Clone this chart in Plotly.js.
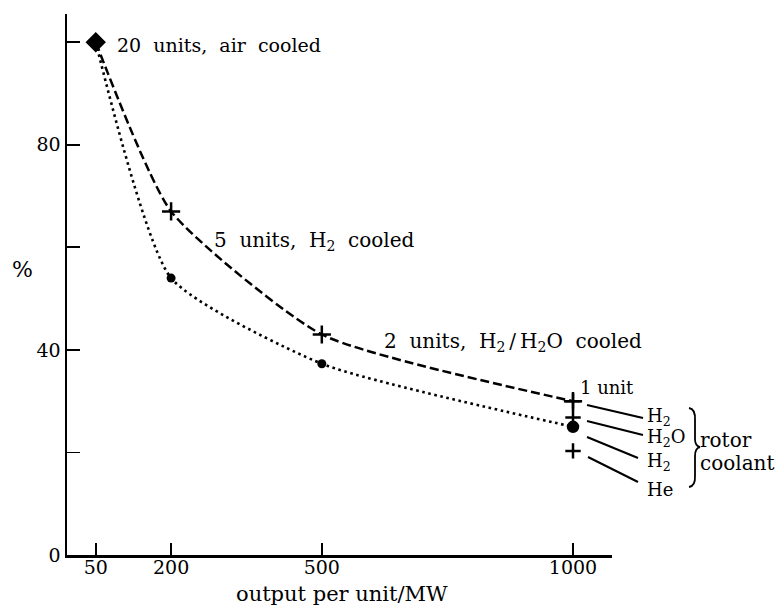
<!DOCTYPE html>
<html>
<head>
<meta charset="utf-8">
<script src="https://cdn.plot.ly/plotly-3.0.1.min.js"></script>
<style>html,body{margin:0;padding:0;background:#fff;}#chart{width:775px;height:612px;}</style>
</head>
<body>
<div id="chart"></div>
<script>
// ---- data ----
const outputMW = [50, 200, 500, 1000];
const dashedPct = [100, 67, 43, 30];      // dashed curve (+ markers)
const dottedPct = [100, 54, 37.3, 25];    // dotted curve (circle markers)
const xTickVals = [50, 200, 500, 1000];
const xTickText = ['50', '200', '500', '1000'];
const yTickVals = [0, 40, 80];
const yTickText = ['0', '40', '80'];
const yMinorTicks = [20, 60, 100];
const coolantLabels = ['H<sub>2</sub>', 'H<sub>2</sub>O', 'H<sub>2</sub>', 'He'];
const coolantPct = [30, 26.8, 25, 20.3];
const coolantSymbols = ['cross-thin', 'cross-thin', 'circle', 'cross-thin'];
const extraMW = 1000;

// ---- geometry helpers (layout only) ----
const L = 67, R = 612, T = 14, B = 555;
const pX = p => (p - L) / (R - L);
const pY = p => (B - p) / (B - T);
const FONT = 'DejaVu Serif, serif';
const FS = 19;

const traces = [
  {
    x: outputMW, y: dashedPct, type: 'scatter', mode: 'lines+markers',
    line: {color: '#000', width: 2.5, dash: '9px,4px', shape: 'spline', smoothing: 0.55},
    marker: {symbol: ['diamond', 'cross-thin', 'cross-thin', 'cross-thin'], size: 13, opacity: 1,
             color: '#000', line: {color: '#000', width: 2.5}},
    hoverinfo: 'skip', cliponaxis: false
  },
  {
    x: outputMW, y: dottedPct, type: 'scatter', mode: 'lines+markers',
    line: {color: '#000', width: 2.6, dash: '2.6px,3.6px', shape: 'spline', smoothing: 0.55},
    marker: {symbol: ['diamond', 'circle', 'circle', 'circle'], size: [13, 9, 9, 10], opacity: 1,
             color: '#000', line: {color: '#000', width: 0}},
    hoverinfo: 'skip', cliponaxis: false
  },
  {
    x: coolantPct.map(() => extraMW), y: coolantPct, type: 'scatter', mode: 'markers',
    marker: {symbol: coolantSymbols, size: coolantSymbols.map(s => s === 'circle' ? 10 : 11), opacity: 1,
             color: '#000', line: {color: '#000', width: 2.5}},
    hoverinfo: 'skip', cliponaxis: false
  }
];

// label rows (pixel y) and leader lines
const labelRowsPx = [417, 438, 461.5, 489];
const leaderStartPx = [[587, 405], [587, 421], [587, 437], [588, 457]];
const leaderEndPx = [[643, 418], [643, 435], [638, 458], [638, 482]];

const txt = (text, x, y, size, xa, ya) => ({
  text: text, x: x, y: y, xref: 'paper', yref: 'paper', xanchor: xa || 'left', yanchor: ya || 'middle',
  showarrow: false, font: {family: FONT, size: size, color: '#000'}
});

const annotations = [
  txt('20  units,  air  cooled', pX(115), pY(45), 19),
  txt('5  units,  H<sub>2</sub>  cooled', pX(212), pY(241), 20),
  txt('2  units,  H<sub>2</sub>\u2009/\u2009H<sub>2</sub>O  cooled', pX(382), pY(342), 20),
  txt('1 unit', pX(578), pY(387), 18),
  txt('rotor', pX(698), pY(440), 20),
  txt('coolant', pX(698), pY(463), 20),
  txt('%', pX(22), pY(269), 22, 'center'),
  txt('output per unit/MW', pX(342), pY(594), 21, 'center')
];
coolantLabels.forEach((lab, i) => annotations.push(txt(lab, pX(645), pY(labelRowsPx[i]), 18)));

const shapes = leaderStartPx.map((s, i) => ({
  type: 'line', xref: 'paper', yref: 'paper',
  x0: pX(s[0]), y0: pY(s[1]), x1: pX(leaderEndPx[i][0]), y1: pY(leaderEndPx[i][1]),
  line: {color: '#000', width: 2}
}));
// brace
const bp = (x, y) => pX(x).toFixed(4) + ',' + pY(y).toFixed(4);
shapes.push({
  type: 'path', xref: 'paper', yref: 'paper',
  path: 'M' + bp(689, 408) + ' Q' + bp(695.5, 409) + ' ' + bp(695, 420) + ' L' + bp(695, 439) +
        ' Q' + bp(695, 446) + ' ' + bp(700, 447) + ' Q' + bp(695, 448) + ' ' + bp(695, 456) +
        ' L' + bp(695, 476) + ' Q' + bp(695.5, 486) + ' ' + bp(689, 487),
  line: {color: '#000', width: 1.8}
});

const layout = {
  width: 775, height: 612,
  margin: {l: L, r: 775 - R, t: T, b: 612 - B, pad: 0},
  paper_bgcolor: '#fff', plot_bgcolor: '#fff',
  showlegend: false,
  font: {family: FONT, size: FS, color: '#000'},
  xaxis: {
    range: [-7.2, 1077.6], showgrid: false, zeroline: false,
    showline: true, linecolor: '#000', linewidth: 2.5,
    tickmode: 'array', tickvals: xTickVals, ticktext: xTickText,
    ticks: 'inside', ticklen: 12, tickwidth: 1.8, tickcolor: '#000',
    ticklabelstandoff: -6,
    tickfont: {family: FONT, size: FS, color: '#000'}
  },
  yaxis: {
    range: [0, 105.5], showgrid: false, zeroline: false,
    showline: true, linecolor: '#000', linewidth: 2.5,
    tickmode: 'array', tickvals: yTickVals, ticktext: yTickText,
    ticks: 'inside', ticklen: 13, tickwidth: 1.8, tickcolor: '#000',
    tickfont: {family: FONT, size: FS, color: '#000'},
    minor: {tickmode: 'array', tickvals: yMinorTicks, ticks: 'inside', ticklen: 13, tickwidth: 1.8,
            tickcolor: '#000', showgrid: false}
  },
  annotations: annotations,
  shapes: shapes
};

Plotly.newPlot('chart', traces, layout, {staticPlot: true, displayModeBar: false});
</script>
</body>
</html>
